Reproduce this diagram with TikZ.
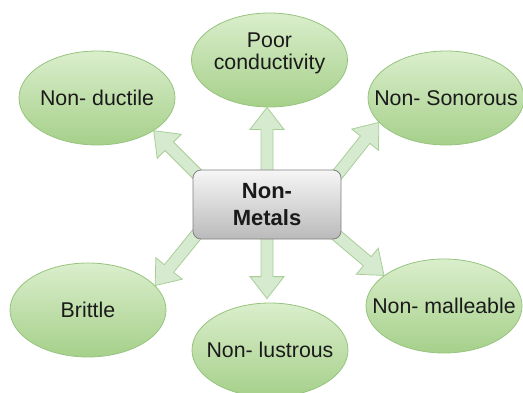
\documentclass[tikz,border=0pt]{standalone}
\usepackage{fontspec}
\setmainfont{Liberation Sans}
\usetikzlibrary{shapes.geometric,calc}
\usepackage{xcolor}

\definecolor{leafTop}{RGB}{218,238,204}
\definecolor{leafBot}{RGB}{166,208,138}
\definecolor{leafLine}{RGB}{150,196,126}
\definecolor{arrowFill}{RGB}{214,234,208}
\definecolor{arrowLine}{RGB}{168,206,152}
\definecolor{boxTop}{RGB}{246,246,246}
\definecolor{boxBot}{RGB}{186,186,186}
\definecolor{boxLine}{RGB}{128,128,128}
\definecolor{inkText}{RGB}{26,26,26}

\tikzset{
  propnode/.style={ellipse, draw=leafLine, line width=0.6pt, top color=leafTop, bottom color=leafBot,
    minimum width=117pt, minimum height=70.5pt, inner sep=0pt, text=inkText,
    font=\fontsize{16}{17}\selectfont},
  proptext/.style={text=inkText, font=\fontsize{16}{16.5}\selectfont, align=center, inner sep=0pt},
  metalbox/.style={rectangle, rounded corners=6pt, draw=boxLine, line width=0.6pt, top color=boxTop,
    bottom color=boxBot, minimum width=111pt, minimum height=51.75pt, text=inkText,
    font=\bfseries\fontsize{16.5}{20}\selectfont, align=center},
  blockarrow/.style={draw=arrowLine, fill=arrowFill, line width=0.6pt, line join=miter}
}

% keeps the ellipse at its own size
\newcommand{\proplabel}[1]{\makebox[0pt]{#1}}

% fat arrow from #1 to tip #2
\newcommand{\propArrow}[2]{%
  \coordinate (s) at ($(#1)!-6pt!(#2)$);
  \coordinate (h) at ($(#2)!16.5pt!(#1)$);
  \draw[blockarrow] ($(s)!4.5pt!90:(#2)$) -- ($(h)!4.5pt!90:(#2)$) -- ($(h)!12.75pt!90:(#2)$)
    -- (#2) -- ($(h)!12.75pt!-90:(#2)$) -- ($(h)!4.5pt!-90:(#2)$) -- ($(s)!4.5pt!-90:(#2)$) -- cycle;
}

\begin{document}
\begin{tikzpicture}[x=0.75pt,y=0.75pt,yscale=-1,xscale=1]
\useasboundingbox (0,0) rectangle (523,392);

%Shape: Ellipses
\node[propnode] (cond) at (269.5,60) {};
\node[proptext] (condtext) at (269.5,53) {Poor\\conductivity};
\node[propnode] (ductile) at (97,98) {\proplabel{Non- ductile}};
\node[propnode] (sonor) at (446,98) {\proplabel{Non- Sonorous}};
\node[propnode] (brittle) at (88,310) {\proplabel{Brittle}};
\node[propnode] (lustr) at (270,350) {\proplabel{Non- lustrous}};
\node[propnode] (mall) at (444,306) {\proplabel{Non- malleable}};

%Shape: Center box
\coordinate (metals) at (267,204.5);

%Block arrows
\path (metals) +(-74,-34.5) coordinate (nw) +(74,-34.5) coordinate (ne)
  +(-74,34.5) coordinate (sw) +(74,34.5) coordinate (se)
  +(0,-34.5) coordinate (n) +(0,34.5) coordinate (so);
\propArrow{n}{n |- cond.south}
\propArrow{so}{$(so |- lustr.north)+(0,-4)$}
\propArrow{nw}{ductile.-30}
\propArrow{ne}{sonor.200}
\propArrow{sw}{brittle.20}
\propArrow{se}{mall.153}

% Text Node
\node[metalbox] (metalsbox) at (metals) {Non-\\Metals};

\end{tikzpicture}
\end{document}
